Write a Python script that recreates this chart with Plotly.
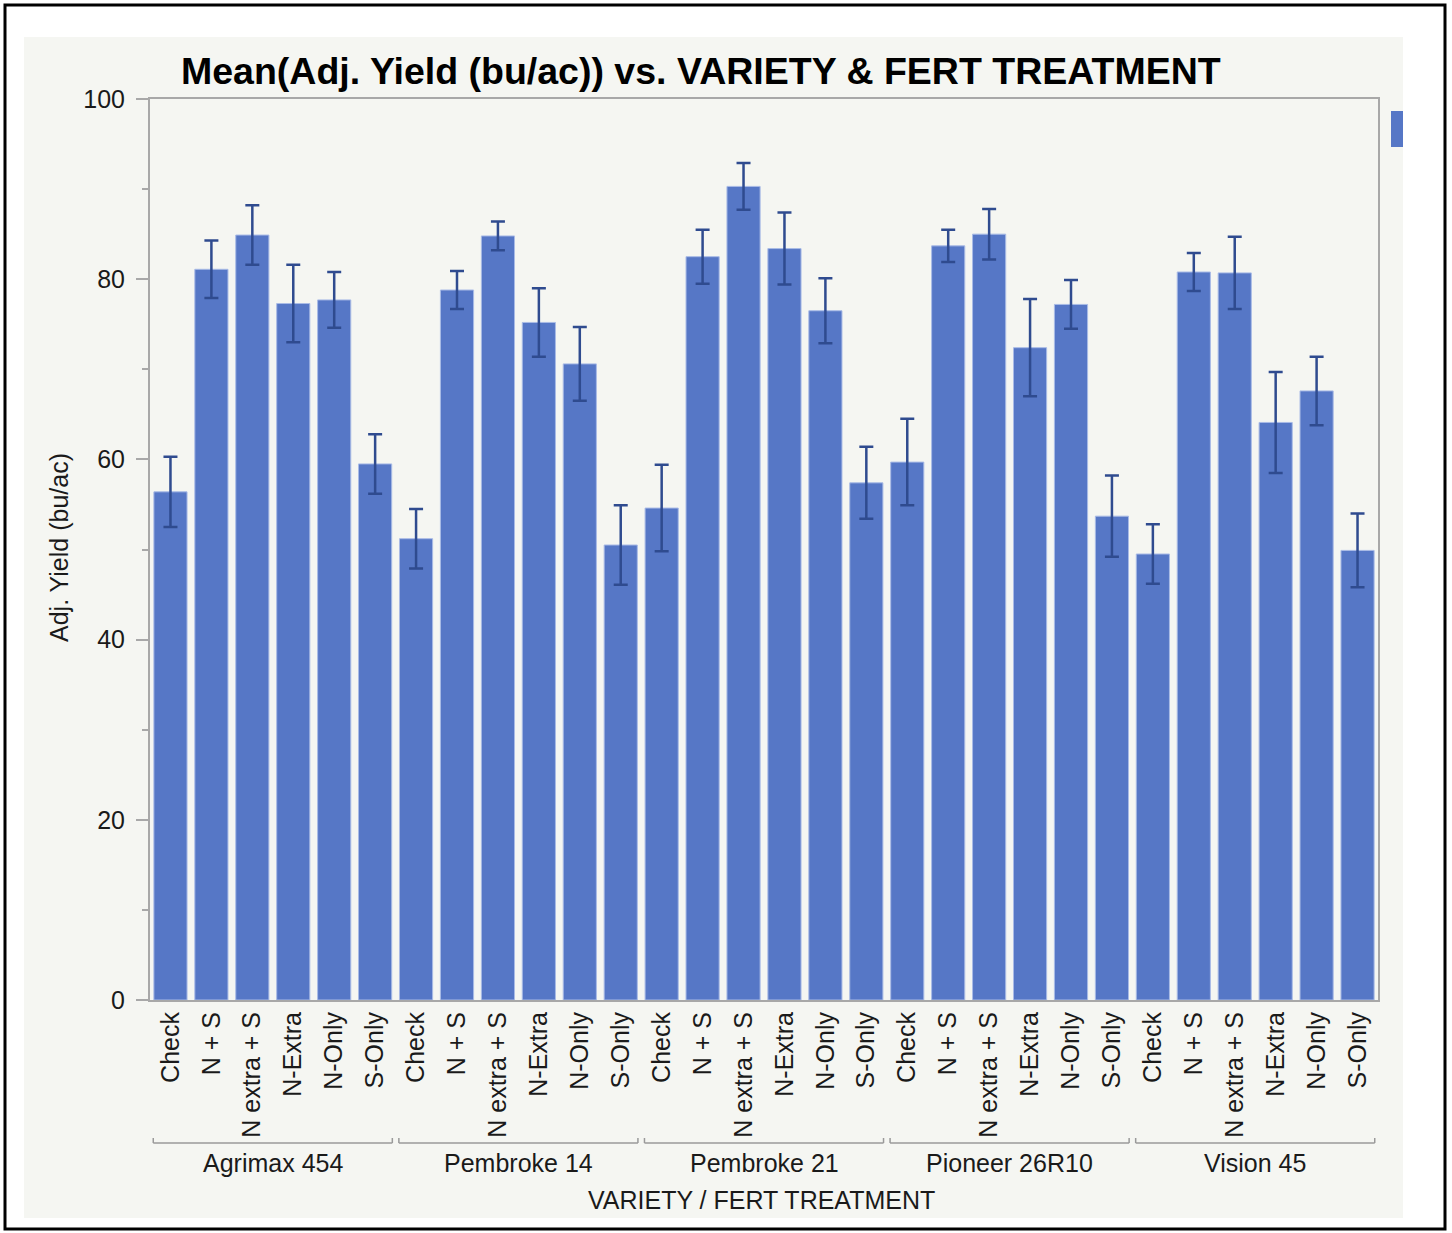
import plotly.graph_objects as go

varieties = ["Agrimax 454", "Pembroke 14", "Pembroke 21", "Pioneer 26R10", "Vision 45"]
treatments = ["Check", "N + S", "N extra + S", "N-Extra", "N-Only", "S-Only"]

yield_agrimax = [56.4, 81.1, 84.9, 77.3, 77.7, 59.5]
yield_pem14 = [51.2, 78.8, 84.8, 75.2, 70.6, 50.5]
yield_pem21 = [54.6, 82.5, 90.3, 83.4, 76.5, 57.4]
yield_pioneer = [59.7, 83.7, 85.0, 72.4, 77.2, 53.7]
yield_vision = [49.5, 80.8, 80.7, 64.1, 67.6, 49.9]

err_agrimax = [3.9, 3.2, 3.3, 4.3, 3.1, 3.3]
err_pem14 = [3.3, 2.1, 1.6, 3.8, 4.1, 4.4]
err_pem21 = [4.8, 3.0, 2.6, 4.0, 3.6, 4.0]
err_pioneer = [4.8, 1.8, 2.8, 5.4, 2.7, 4.5]
err_vision = [3.3, 2.1, 4.0, 5.6, 3.8, 4.1]

y_ticks = [0, 20, 40, 60, 80, 100]

means = yield_agrimax + yield_pem14 + yield_pem21 + yield_pioneer + yield_vision
errs = err_agrimax + err_pem14 + err_pem21 + err_pioneer + err_vision
n_t = len(treatments)
xpos = list(range(len(means)))
tick_text = treatments * len(varieties)

W, H = 1452, 1233
L, T = 150, 99
R = W - 1378
B = H - 1000
pw, ph = W - L - R, H - T - B

def px(xp):
    return (xp - L) / pw

def py(yp):
    return (H - B - yp) / ph

FONT = "Liberation Sans, Arial, Helvetica, sans-serif"
BAR = "#5677c6"
TXT = "#1a1a1a"
FS = 25

fig = go.Figure()
fig.add_trace(go.Bar(
    x=xpos, y=means,
    marker=dict(color=BAR, line=dict(color="#a9bbe6", width=1)),
    error_y=dict(type="data", array=errs, visible=True, color="#2f4b8f", thickness=2.5, width=7),
    showlegend=False,
))

shapes = []
# outer black frame
shapes.append(dict(type="rect", xref="paper", yref="paper", x0=px(5), x1=px(1445), y0=py(1229), y1=py(5),
                   line=dict(color="black", width=3), fillcolor="rgba(0,0,0,0)", layer="below"))
# grey panel
shapes.append(dict(type="rect", xref="paper", yref="paper", x0=px(24), x1=px(1403), y0=py(1218), y1=py(37),
                   line=dict(width=0), fillcolor="#f5f6f2", layer="below"))
# legend swatch (cropped)
shapes.append(dict(type="rect", xref="paper", yref="paper", x0=px(1391), x1=px(1403), y0=py(147), y1=py(111),
                   line=dict(width=0), fillcolor=BAR, layer="above"))

annotations = []
for i, v in enumerate(varieties):
    x0 = i * n_t - 0.42
    x1 = (i + 1) * n_t - 1 + 0.42
    yb = py(1143)
    yt = py(1138)
    for seg in [(x0, yb, x1, yb), (x0, yb, x0, yt), (x1, yb, x1, yt)]:
        shapes.append(dict(type="line", xref="x", yref="paper", x0=seg[0], y0=seg[1], x1=seg[2], y1=seg[3],
                           line=dict(color="#9a9a9a", width=1.5)))
    annotations.append(dict(x=(x0 + x1) / 2, y=py(1163), xref="x", yref="paper", text=v, showarrow=False,
                            font=dict(family=FONT, size=FS, color=TXT), xanchor="center", yanchor="middle"))

annotations.append(dict(x=px(761), y=py(1200), xref="paper", yref="paper", text="VARIETY / FERT TREATMENT",
                        showarrow=False, font=dict(family=FONT, size=FS, color=TXT),
                        xanchor="center", yanchor="middle"))
annotations.append(dict(x=px(59), y=py(548), xref="paper", yref="paper", text="Adj. Yield (bu/ac)",
                        showarrow=False, textangle=-90, font=dict(family=FONT, size=FS, color=TXT),
                        xanchor="center", yanchor="middle"))
annotations.append(dict(x=px(701), y=py(71), xref="paper", yref="paper",
                        text="<b>Mean(Adj. Yield (bu/ac)) vs. VARIETY &amp; FERT TREATMENT</b>",
                        showarrow=False, font=dict(family=FONT, size=37.5, color="black"),
                        xanchor="center", yanchor="middle"))

fig.update_layout(
    width=W, height=H,
    margin=dict(l=L, r=R, t=T, b=B, autoexpand=False),
    paper_bgcolor="white", plot_bgcolor="white",
    bargap=0.19,
    shapes=shapes, annotations=annotations,
    font=dict(family=FONT, color=TXT),
)
fig.update_xaxes(
    range=[-0.5, len(means) - 0.5], tickmode="array", tickvals=xpos, ticktext=tick_text,
    tickangle=-90, tickfont=dict(family=FONT, size=FS, color=TXT),
    showline=True, mirror=True, linecolor="#a8a8a8", linewidth=2, ticks="", showgrid=False,
    zeroline=False,
)
fig.update_yaxes(
    range=[0, 100], tickmode="array", tickvals=y_ticks, ticktext=[str(t) for t in y_ticks],
    tickfont=dict(family=FONT, size=FS, color=TXT),
    ticks="outside", ticklen=12, tickcolor="#a8a8a8", tickwidth=1.5,
    minor=dict(dtick=10, tick0=0, ticks="outside", ticklen=6, tickcolor="#a8a8a8", tickwidth=1.5),
    showline=True, mirror=True, linecolor="#a8a8a8", linewidth=2, showgrid=False, zeroline=False,
    ticklabelstandoff=6,
)

fig.write_html("out.html", config={"displayModeBar": False},
               post_script="document.body.style.margin='0';")
